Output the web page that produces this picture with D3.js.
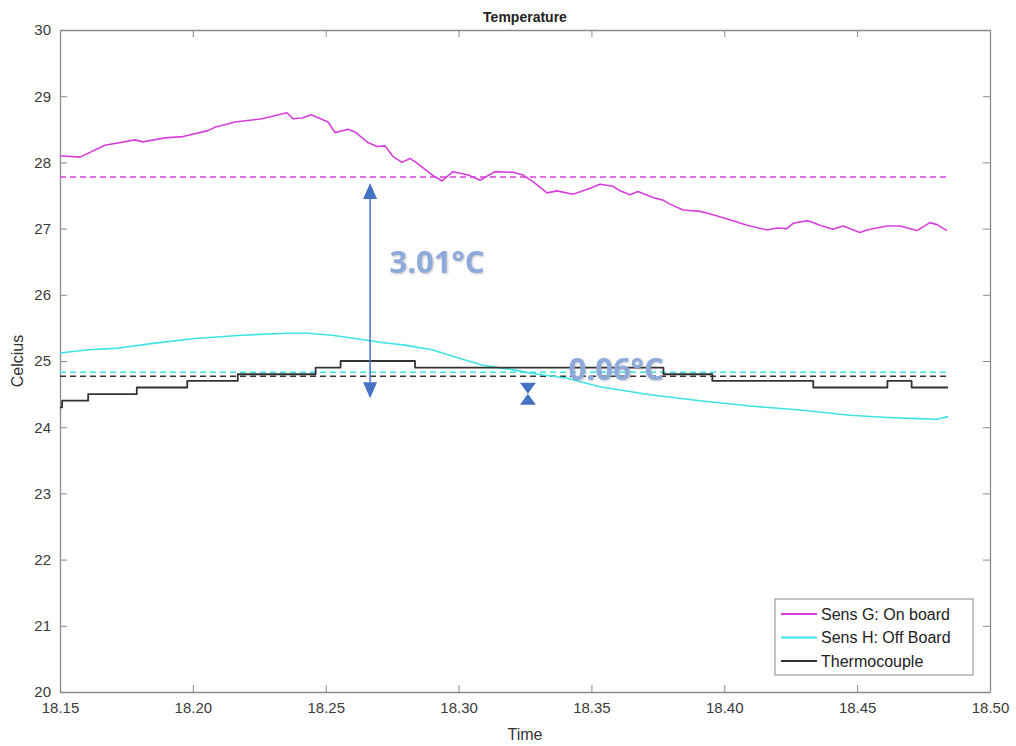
<!DOCTYPE html>
<html>
<head>
<meta charset="utf-8">
<script src="https://cdn.jsdelivr.net/npm/d3@7"></script>
<style>
  body { margin: 0; background: #fff; }
  svg { font-family: "Liberation Sans", Arial, sans-serif; }
  .tick text { fill: #3a3a3a; font-size: 15px; }
  .tick line, .domain { stroke: #8a8a8a; }
</style>
</head>
<body>
<div id="chart"></div>
<script>
// Sens G: On board (magenta)
const gTime = [18.1500, 18.1575, 18.1669, 18.1782, 18.1812, 18.1895, 18.1963, 18.2057, 18.2083, 18.2159,
  18.2260, 18.2354, 18.2377, 18.2411, 18.2445, 18.2509, 18.2535, 18.2584, 18.2610, 18.2659,
  18.2693, 18.2723, 18.2753, 18.2787, 18.2817, 18.2844, 18.2900, 18.2938, 18.2979, 18.3036,
  18.3081, 18.3137, 18.3205, 18.3242, 18.3280, 18.3333, 18.3370, 18.3431, 18.3495, 18.3532,
  18.3581, 18.3608, 18.3645, 18.3675, 18.3732, 18.3769, 18.3796, 18.3845, 18.3909, 18.3958,
  18.4033, 18.4086, 18.4161, 18.4198, 18.4236, 18.4259, 18.4315, 18.4360, 18.4409, 18.4447,
  18.4511, 18.4537, 18.4612, 18.4661, 18.4725, 18.4774, 18.4801, 18.4838];
const gTemp = [28.10, 28.08, 28.26, 28.34, 28.31, 28.37, 28.39, 28.48, 28.53, 28.61,
  28.66, 28.75, 28.66, 28.67, 28.72, 28.61, 28.45, 28.50, 28.46, 28.30,
  28.24, 28.25, 28.09, 28.00, 28.06, 27.99, 27.81, 27.72, 27.86, 27.81,
  27.73, 27.86, 27.85, 27.81, 27.71, 27.54, 27.57, 27.52, 27.61, 27.67,
  27.64, 27.57, 27.51, 27.56, 27.47, 27.43, 27.37, 27.28, 27.26, 27.21,
  27.12, 27.05, 26.98, 27.01, 27.00, 27.08, 27.12, 27.05, 26.99, 27.04,
  26.94, 26.98, 27.04, 27.04, 26.97, 27.09, 27.06, 26.97];

// Sens H: Off Board (cyan)
const hTime = [18.1500, 18.1605, 18.1707, 18.1858, 18.2008, 18.2185, 18.2358, 18.2433, 18.2524, 18.2610,
  18.2712, 18.2798, 18.2900, 18.2987, 18.3088, 18.3148, 18.3205, 18.3280, 18.3408, 18.3532,
  18.3720, 18.3909, 18.4097, 18.4285, 18.4473, 18.4597, 18.4725, 18.4801, 18.4842];
const hTemp = [25.12, 25.17, 25.19, 25.27, 25.34, 25.39, 25.42, 25.42, 25.39, 25.34,
  25.28, 25.24, 25.17, 25.06, 24.94, 24.90, 24.87, 24.81, 24.74, 24.61,
  24.49, 24.40, 24.32, 24.26, 24.18, 24.15, 24.13, 24.12, 24.16];

// Thermocouple (black, stepped)
const tcTime = [18.1500, 18.1508, 18.1606, 18.1789, 18.1979, 18.2169, 18.2462, 18.2556, 18.2836,
  18.3771, 18.3955, 18.4335, 18.4614, 18.4705, 18.4842];
const tcTemp = [24.3, 24.4, 24.5, 24.6, 24.7, 24.8, 24.9, 25.0, 24.9,
  24.8, 24.7, 24.6, 24.7, 24.6, 24.6];

// mean lines: G, H, thermocouple
const meanTemp = [27.78, 24.83, 24.77];
const seriesNames = ["Sens G: On board", "Sens H: Off Board", "Thermocouple"];
const seriesColors = ["#d63fdc", "#3fe3e3", "#333333"];

const xTicks = [18.15, 18.20, 18.25, 18.30, 18.35, 18.40, 18.45, 18.50];
const yTicks = [20, 21, 22, 23, 24, 25, 26, 27, 28, 29, 30];

// annotations: [time, top value, bottom value, label, label time, label value]
const bigGapNote = [18.2667, meanTemp[0], meanTemp[2], "3.01°C", 18.2919, 26.33];
const smallGapNote = [18.3261, 24.67, 24.34, "0.06°C", 18.3593, 24.71];

const width = 1016;
const height = 746;
const margin = { left: 60, right: 26, top: 30, bottom: 54 };

const svg = d3.select("#chart").append("svg")
  .attr("width", width)
  .attr("height", height);

const x = d3.scaleLinear().domain([18.15, 18.50]).range([margin.left, width - margin.right]);
const y = d3.scaleLinear().domain([20, 30]).range([height - margin.bottom, margin.top]);

const plotW = width - margin.left - margin.right;
const plotH = height - margin.top - margin.bottom;

// axes, MATLAB style (ticks inward, box)
svg.append("g")
  .attr("transform", `translate(0, ${y(20)})`)
  .call(d3.axisBottom(x).tickValues(xTicks).tickFormat(d3.format(".2f")).tickSizeInner(-7).tickSizeOuter(0).tickPadding(10));
svg.append("g")
  .attr("transform", `translate(0, ${y(30)})`)
  .call(d3.axisTop(x).tickValues(xTicks).tickFormat("").tickSizeInner(-7).tickSizeOuter(0));
svg.append("g")
  .attr("transform", `translate(${x(18.15)}, 0)`)
  .call(d3.axisLeft(y).tickValues(yTicks).tickFormat(d3.format("d")).tickSizeInner(-7).tickSizeOuter(0).tickPadding(9));
svg.append("g")
  .attr("transform", `translate(${x(18.50)}, 0)`)
  .call(d3.axisRight(y).tickValues(yTicks).tickFormat("").tickSizeInner(-7).tickSizeOuter(0));
svg.selectAll(".domain").attr("stroke-width", 1.3);

// labels
svg.append("text")
  .attr("x", margin.left + plotW / 2).attr("y", 22)
  .attr("text-anchor", "middle").attr("font-size", 14).attr("font-weight", "bold").attr("fill", "#222")
  .text("Temperature");
svg.append("text")
  .attr("x", margin.left + plotW / 2).attr("y", 740)
  .attr("text-anchor", "middle").attr("font-size", 16).attr("fill", "#333")
  .text("Time");
svg.append("text")
  .attr("transform", `translate(23, ${margin.top + plotH / 2}) rotate(-90)`)
  .attr("text-anchor", "middle").attr("font-size", 16).attr("fill", "#333")
  .text("Celcius");

const zip = (ts, vs) => ts.map((t, i) => ({ t, v: vs[i] }));
const series = [zip(gTime, gTemp), zip(hTime, hTemp), zip(tcTime, tcTemp)];

const line = d3.line().x((d) => x(d.t)).y((d) => y(d.v));
const stepLine = d3.line().x((d) => x(d.t)).y((d) => y(d.v)).curve(d3.curveStepAfter);

// mean dashed lines
const tEnd = d3.max(gTime);
svg.append("g").selectAll("line")
  .data(meanTemp)
  .join("line")
  .attr("x1", x(18.15)).attr("x2", x(tEnd))
  .attr("y1", (d) => y(d)).attr("y2", (d) => y(d))
  .attr("stroke", (d, i) => seriesColors[i])
  .attr("stroke-width", 1.6)
  .attr("stroke-dasharray", "6 4");

svg.append("g").selectAll("path")
  .data(series)
  .join("path")
  .attr("fill", "none")
  .attr("stroke", (d, i) => seriesColors[i])
  .attr("stroke-width", (d, i) => (i === 2 ? 1.8 : 1.6))
  .attr("stroke-linejoin", "round")
  .attr("d", (d, i) => (i === 2 ? stepLine(d) : line(d)));

// annotations
const noteBlue = "#4472c4";
const noteText = "#8eaadb";
const defs = svg.append("defs");
defs.append("filter").attr("id", "shadow")
  .append("feDropShadow")
  .attr("dx", 1).attr("dy", 1).attr("stdDeviation", 1)
  .attr("flood-color", "#888").attr("flood-opacity", 0.5);

const [bt, bTop, bBot, bLabel, blt, blv] = bigGapNote;
const ax = x(bt);
const head = 16;
const topTip = y(bTop) + 6;
const botTip = y(bBot) + 22;
svg.append("line")
  .attr("x1", ax).attr("x2", ax)
  .attr("y1", topTip + head).attr("y2", botTip - head)
  .attr("stroke", noteBlue).attr("stroke-width", 1.5);
svg.append("path")
  .attr("fill", noteBlue)
  .attr("d", `M${ax},${topTip} L${ax - 7},${topTip + head} L${ax + 7},${topTip + head} Z
              M${ax},${botTip} L${ax - 7},${botTip - head} L${ax + 7},${botTip - head} Z`);
svg.append("text")
  .attr("x", x(blt)).attr("y", y(blv))
  .attr("text-anchor", "middle")
  .attr("font-family", "'Open Sans', 'Liberation Sans', sans-serif")
  .attr("font-size", 31).attr("font-weight", "bold")
  .attr("fill", noteText).attr("filter", "url(#shadow)")
  .text(bLabel);

const [st, sTop, sBot, sLabel, slt, slv] = smallGapNote;
const sx = x(st);
const sMid = (y(sTop) + y(sBot)) / 2;
svg.append("path")
  .attr("fill", noteBlue)
  .attr("d", `M${sx - 8},${y(sTop)} L${sx + 8},${y(sTop)} L${sx},${sMid} Z
              M${sx - 8},${y(sBot)} L${sx + 8},${y(sBot)} L${sx},${sMid} Z`);
svg.append("text")
  .attr("x", x(slt)).attr("y", y(slv))
  .attr("text-anchor", "middle")
  .attr("font-family", "'Open Sans', 'Liberation Sans', sans-serif")
  .attr("font-size", 31).attr("font-weight", "bold")
  .attr("fill", noteText).attr("filter", "url(#shadow)")
  .text(sLabel);

// legend
const legend = svg.append("g").attr("transform", "translate(775, 599)");
legend.append("rect")
  .attr("width", 198).attr("height", 76)
  .attr("fill", "#fff").attr("stroke", "#8a8a8a").attr("stroke-width", 1);
const rows = legend.selectAll("g.row")
  .data(seriesNames)
  .join("g")
  .attr("class", "row")
  .attr("transform", (d, i) => `translate(0, ${15 + i * 23.5})`);
rows.append("line")
  .attr("x1", 6).attr("x2", 42)
  .attr("stroke", (d, i) => seriesColors[i]).attr("stroke-width", 1.8);
rows.append("text")
  .attr("x", 46).attr("dy", "0.35em")
  .attr("font-size", 16).attr("fill", "#222")
  .text((d) => d);
</script>
</body>
</html>
